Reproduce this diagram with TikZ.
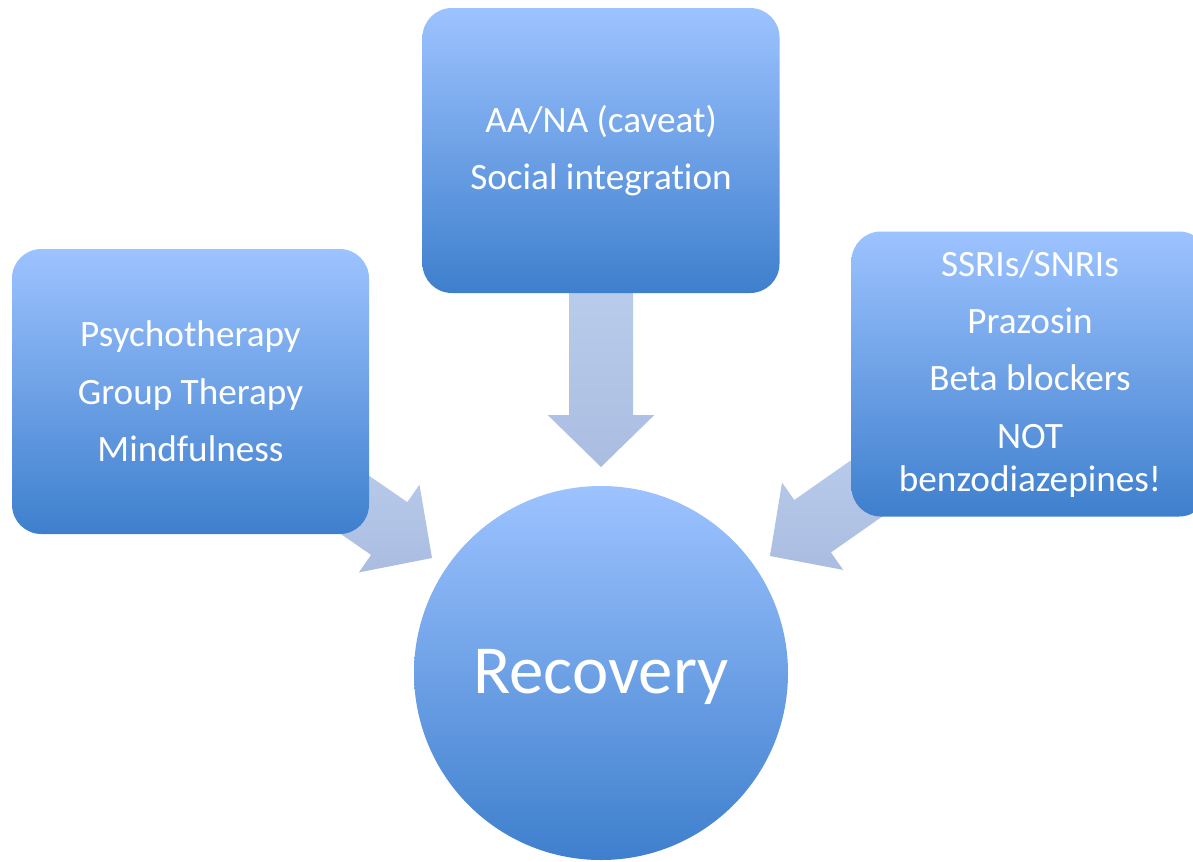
\documentclass[tikz,border=0pt]{standalone}
\usepackage{fontspec}
\setmainfont{Carlito}[Ligatures=NoCommon]
\usetikzlibrary{calc,backgrounds}

\definecolor{boxtop}{RGB}{157,195,255}
\definecolor{boxbot}{RGB}{62,127,205}
\definecolor{flowtop}{RGB}{198,215,243}
\definecolor{flowbot}{RGB}{170,189,225}

\tikzset{
  box/.style={rounded corners=22pt, minimum width=267.75pt, minimum height=213.75pt,
    top color=boxtop, bottom color=boxbot, text=white, align=center, inner sep=0pt,
    font=\fontsize{27.9}{32.5}\selectfont},
  hub/.style={circle, minimum size=280.5pt, inner sep=0pt, text depth=2pt,
    top color=boxtop, bottom color=boxbot, text=white,
    font=\fontsize{51.6}{60}\selectfont},
  flow/.style={top color=flowtop, bottom color=flowbot}
}

\begin{document}
\begin{tikzpicture}[x=0.75pt,y=0.75pt,yscale=-1]
\useasboundingbox (0,0) rectangle (1193,861);

% Boxes
\node [box] (social) at (601,150.5) {AA/NA (caveat)\\[10.5pt]Social integration};
\node [box] (therapy) at (190.5,391.5) {Psychotherapy\\[10.5pt]Group Therapy\\[10.5pt]Mindfulness};
\node [box] (meds) at (1030,374) {SSRIs/SNRIs\\[10.5pt]Prazosin\\[10.5pt]Beta blockers\\[10.5pt]NOT\\benzodiazepines!};
% Circle
\node [hub] (recovery) at (601,673) {Recovery};

% Arrow tips
\coordinate (tipT) at (601,467);
\coordinate (tipL) at (432,558);
\coordinate (tipR) at (770,556);

% Block arrows
\begin{scope}[on background layer]
\foreach \src/\tip in {social/tipT, therapy/tipL, meds/tipR}{
  \path ($(\tip)!39pt!(\src)$) coordinate (base);
  \path [flow] ($(\src)!24pt!90:(\tip)$) -- ($(base)!24pt!90:(\tip)$) -- ($(base)!40pt!90:(\tip)$) -- (\tip)
    -- ($(base)!40pt!-90:(\tip)$) -- ($(base)!24pt!-90:(\tip)$) -- ($(\src)!24pt!-90:(\tip)$) -- cycle;
}
\end{scope}

\end{tikzpicture}
\end{document}
